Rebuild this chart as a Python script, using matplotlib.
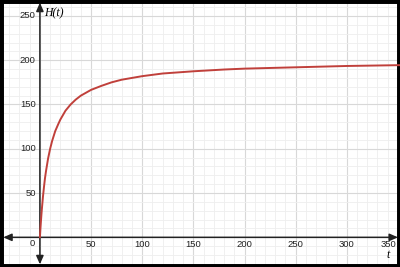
import matplotlib
matplotlib.use('Agg')
import matplotlib.pyplot as plt
from matplotlib.ticker import MultipleLocator

# values
t_vals = [0, 0.5, 1, 1.5, 2, 3, 4, 5, 6, 7, 8, 10, 12, 15, 18, 20, 25, 30, 35, 40,
          50, 60, 70, 80, 100, 120, 150, 180, 200, 250, 300, 356]
h_vals = [0, 9.5, 18, 26, 33, 46, 57, 67, 75, 82, 89, 100, 109, 120, 128, 133, 143,
          150, 155.5, 160, 166.5, 171, 175, 178, 182, 185, 187.5, 189.5, 190.5, 192,
          193.5, 194.5]

x_ticks = [50, 100, 150, 200, 250, 300, 350]
y_ticks = [50, 100, 150, 200, 250]

fig = plt.figure(figsize=(4, 2.67), dpi=100)
ax = fig.add_axes([0, 0, 1, 1])
ax.set_xlim(-39, 352)
ax.set_ylim(-33.5, 268)

ax.xaxis.set_major_locator(MultipleLocator(50))
ax.xaxis.set_minor_locator(MultipleLocator(10))
ax.yaxis.set_major_locator(MultipleLocator(50))
ax.yaxis.set_minor_locator(MultipleLocator(10))
ax.grid(which='major', color='#d8d8d8', lw=0.8)
ax.grid(which='minor', color='#eeeeee', lw=0.6)
ax.tick_params(which='both', length=0, labelbottom=False, labelleft=False)
ax.set_axisbelow(True)

for s in ax.spines.values():
    s.set_color('black')
    s.set_linewidth(5)

# axes with arrows at both ends
arrow = dict(arrowstyle='<|-|>,head_length=0.5,head_width=0.22', color='#222222',
             lw=1.1, shrinkA=0, shrinkB=0)
ax.annotate('', xy=(0.995, 0), xytext=(0.008, 0),
            xycoords=('axes fraction', 'data'), arrowprops=arrow)
ax.annotate('', xy=(0, 0.99), xytext=(0, 0.01),
            xycoords=('data', 'axes fraction'), arrowprops=arrow)

ax.plot(t_vals, h_vals, color='#c0403b', lw=1.4, solid_capstyle='round', zorder=3)

lab = dict(fontsize=6.8, family='Liberation Sans', color='#222222')
for v in x_ticks:
    xx = v if v < 350 else 341
    ax.text(xx, -8, str(v), ha='center', va='center', **lab)
for v in y_ticks:
    ax.text(-4, v, str(v), ha='right', va='center', **lab)
ax.text(-5, -7.5, '0', ha='right', va='center', **lab)

ax.text(4, 253, 'H(t)', fontsize=8.5, family='Liberation Serif', style='italic',
        ha='left', va='center')
ax.text(340, -20, 't', fontsize=8.5, family='Liberation Serif', style='italic',
        ha='center', va='center')

fig.savefig('out.png', dpi=100)
